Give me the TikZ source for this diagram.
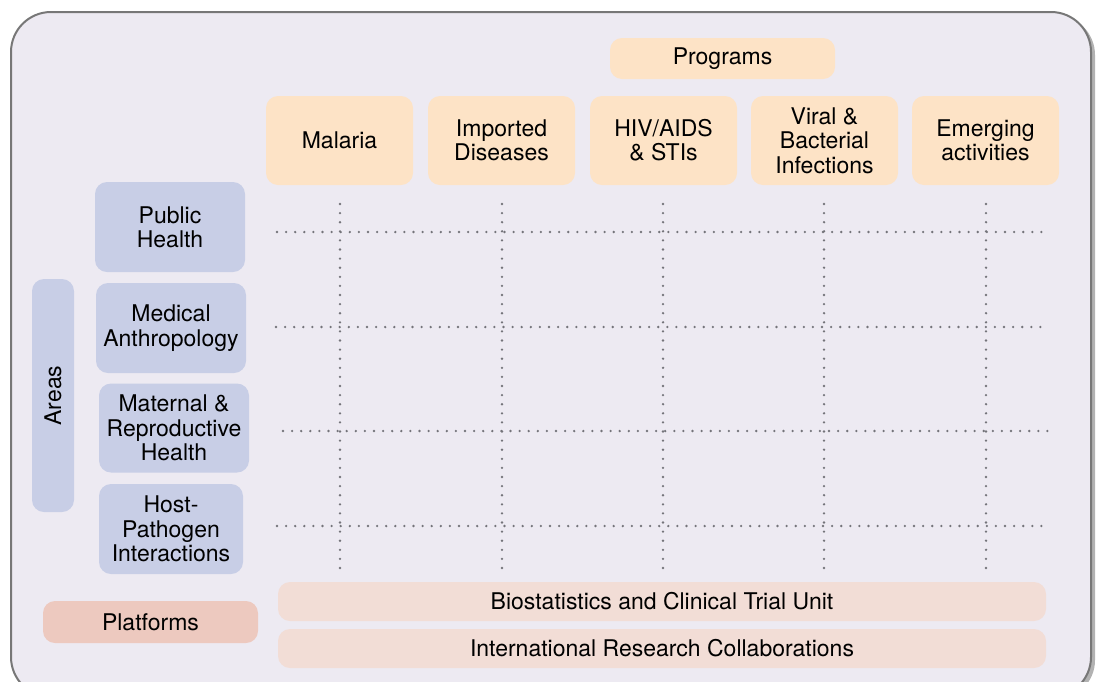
\documentclass[tikz,border=0pt]{standalone}
\usepackage{fontspec}
\setmainfont{TeX Gyre Heros}
\definecolor{bg}{HTML}{EDEAF2}
\definecolor{frame}{HTML}{777777}
\definecolor{prog}{HTML}{FDE3C6}
\definecolor{area}{HTML}{C8CEE6}
\definecolor{plat}{HTML}{EDC9BF}
\definecolor{bar}{HTML}{F2DDD6}
\definecolor{dotc}{HTML}{74747A}
\tikzset{
  box/.style={rounded corners=12pt, inner sep=0pt, align=center,
     font=\fontsize{23}{24.3}\selectfont, text=black},
  progbox/.style={box, fill=prog, minimum width=147pt, minimum height=89pt},
  areabox/.style={box, fill=area, minimum height=90pt},
  barbox/.style={box, fill=bar, minimum width=768pt, minimum height=39pt},
  grid/.style={draw=dotc, line width=2.6pt, line cap=round, dash pattern=on 0pt off 9.1pt}
}
\begin{document}
\begin{tikzpicture}[x=1pt,y=-1pt]
\useasboundingbox (0,0) rectangle (1099,681);
% outer frame
\fill[gray!60, rounded corners=40pt] (14,15) rectangle (1095,700);
\draw[frame, line width=2pt, fill=bg, rounded corners=40pt] (11,12) rectangle (1091,697);
% programs
\node[box, fill=prog, minimum width=225pt, minimum height=41pt] (programs) at (722.5,58.5) {Programs};
\node[progbox] (p1) at (339.5,140.5) {Malaria};
\node[progbox] (p2) at (501.5,140.5) {Imported\\Diseases};
\node[progbox] (p3) at (663.5,140.5) {HIV/AIDS\\\& STIs};
\node[progbox] (p4) at (824.5,140.5) {Viral \&\\Bacterial\\Infections};
\node[progbox] (p5) at (985.5,140.5) {Emerging\\activities};
% areas
\node[box, fill=area, minimum width=42pt, minimum height=233pt] (areas) at (53,395.5) {};
\node[box, rotate=90] at (areas.center) {Areas};
\node[areabox, minimum width=150pt] (a1) at (170,227) {Public\\Health};
\node[areabox, minimum width=150pt] (a2) at (171,328) {Medical\\Anthropology};
\node[areabox, minimum width=150pt, minimum height=89pt] (a3) at (174,428) {Maternal \&\\Reproductive\\Health};
\node[areabox, minimum width=144pt] (a4) at (171,529) {Host-\\Pathogen\\Interactions};
% platforms
\node[box, fill=plat, minimum width=215pt, minimum height=42pt] (plat) at (150.5,622) {Platforms};
\node[barbox] (b1) at (662,601.5) {Biostatistics and Clinical Trial Unit};
\node[barbox] (b2) at (662,648.5) {International Research Collaborations};
% grid lines
\foreach \i/\x in {1/340,2/502,3/663,4/824,5/986} {
  \coordinate (vt\i) at (\x,204);
  \coordinate (vb\i) at (\x,572);
  \draw[grid] (vt\i) -- (vb\i);
}
\foreach \i/\y/\xa/\xb in {1/232/277/1045,2/327/276/1047,3/431/283/1048,4/526/277/1050} {
  \coordinate (hl\i) at (\xa,\y);
  \coordinate (hr\i) at (\xb,\y);
  \draw[grid] (hl\i) -- (hr\i);
}
\end{tikzpicture}
\end{document}
